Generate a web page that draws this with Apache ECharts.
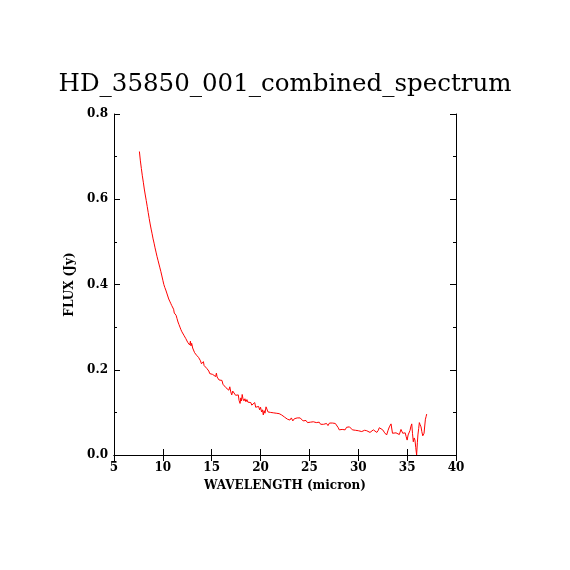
<!DOCTYPE html>
<html>
<head>
<meta charset="utf-8">
<script src="https://cdn.jsdelivr.net/npm/echarts@6/dist/echarts.min.js"></script>
<style>
  html, body { margin: 0; padding: 0; background: #fff; }
  #chart { width: 570px; height: 570px; }
</style>
</head>
<body>
<div id="chart"></div>
<script>
// wavelength (micron) and flux (Jy)
var wavelength = [
    7.60, 7.70, 7.80, 7.90, 8.00, 8.10, 8.20, 8.30, 8.40, 8.50,
    8.60, 8.70, 8.80, 8.90, 9.00, 9.10, 9.20, 9.30, 9.40, 9.50,
    9.60, 9.70, 9.80, 9.90, 10.00, 10.10, 10.20, 10.30, 10.40, 10.50,
    10.60, 10.70, 10.80, 10.90, 11.00, 11.10, 11.17, 11.25, 11.35, 11.45,
    11.55, 11.65, 11.75, 11.85, 11.95, 12.05, 12.15, 12.25, 12.35, 12.45,
    12.55, 12.65, 12.75, 12.82, 12.88, 12.95, 13.05, 13.15, 13.25, 13.35,
    13.45, 13.55, 13.65, 13.75, 13.85, 13.95, 14.02, 14.08, 14.15, 14.22,
    14.30, 14.40, 14.50, 14.60, 14.70, 14.80, 14.90, 15.00, 15.10, 15.20,
    15.30, 15.40, 15.48, 15.55, 15.65, 15.75, 15.85, 15.95, 16.05, 16.15,
    16.25, 16.35, 16.45, 16.55, 16.65, 16.75, 16.85, 16.95, 17.05, 17.15,
    17.25, 17.35, 17.45, 17.55, 17.65, 17.72, 17.80, 17.90, 17.98, 18.05,
    18.12, 18.20, 18.30, 18.40, 18.50, 18.60, 18.70, 18.80, 18.90, 19.00,
    19.10, 19.20, 19.30, 19.40, 19.50, 19.60, 19.70, 19.80, 19.90, 20.00,
    20.10, 20.20, 20.28, 20.36, 20.45, 20.56, 20.66, 20.76, 20.88, 21.00,
    21.15, 21.30, 21.45, 21.60, 21.75, 21.90, 22.00, 22.15, 22.30, 22.45,
    22.60, 22.75, 22.90, 23.00, 23.15, 23.30, 23.45, 23.60, 23.75, 23.90,
    24.05, 24.20, 24.35, 24.50, 24.65, 24.80, 24.95, 25.10, 25.25, 25.40,
    25.55, 25.70, 25.85, 26.00, 26.15, 26.30, 26.45, 26.60, 26.75, 26.90,
    27.05, 27.20, 27.35, 27.50, 27.65, 27.80, 27.95, 28.05, 28.20, 28.35,
    28.50, 28.65, 28.80, 28.95, 29.10, 29.25, 29.40, 29.55, 29.70, 29.85,
    30.00, 30.18, 30.35, 30.50, 30.65, 30.86, 31.00, 31.20, 31.35, 31.54,
    31.70, 31.90, 32.05, 32.15, 32.30, 32.50, 32.70, 32.90, 33.05, 33.18,
    33.35, 33.50, 33.65, 33.86, 34.00, 34.20, 34.37, 34.55, 34.70, 34.80,
    34.90, 35.00, 35.10, 35.20, 35.30, 35.37, 35.47, 35.55, 35.63, 35.72,
    35.80, 35.88, 35.97, 36.05, 36.10, 36.18, 36.25, 36.33, 36.42, 36.50,
    36.60, 36.73, 36.80, 36.87, 36.94, 37.00
];
var flux = [
    0.712, 0.690, 0.672, 0.655, 0.640, 0.624, 0.610, 0.597, 0.583, 0.569,
    0.555, 0.542, 0.530, 0.519, 0.507, 0.497, 0.486, 0.476, 0.466, 0.457,
    0.448, 0.439, 0.430, 0.420, 0.410, 0.400, 0.393, 0.387, 0.380, 0.373,
    0.366, 0.361, 0.356, 0.351, 0.347, 0.342, 0.333, 0.336, 0.328, 0.320,
    0.312, 0.306, 0.300, 0.294, 0.289, 0.286, 0.281, 0.278, 0.273, 0.270,
    0.264, 0.260, 0.258, 0.267, 0.256, 0.262, 0.251, 0.247, 0.240, 0.236,
    0.234, 0.232, 0.229, 0.228, 0.221, 0.214, 0.218, 0.211, 0.219, 0.210,
    0.212, 0.206, 0.203, 0.199, 0.197, 0.191, 0.190, 0.188, 0.189, 0.186,
    0.190, 0.184, 0.192, 0.183, 0.181, 0.176, 0.178, 0.172, 0.175, 0.166,
    0.162, 0.167, 0.158, 0.156, 0.160, 0.152, 0.160, 0.148, 0.141, 0.150,
    0.146, 0.149, 0.140, 0.144, 0.137, 0.141, 0.128, 0.121, 0.134, 0.127,
    0.142, 0.132, 0.127, 0.132, 0.125, 0.130, 0.124, 0.128, 0.120, 0.123,
    0.117, 0.121, 0.114, 0.123, 0.112, 0.116, 0.108, 0.114, 0.106, 0.112,
    0.101, 0.106, 0.094, 0.104, 0.098, 0.113, 0.111, 0.101, 0.097, 0.100,
    0.102, 0.099, 0.101, 0.098, 0.100, 0.097, 0.098, 0.094, 0.093, 0.089,
    0.087, 0.084, 0.082, 0.082, 0.087, 0.080, 0.085, 0.083, 0.087, 0.088,
    0.087, 0.083, 0.080, 0.078, 0.081, 0.076, 0.073, 0.077, 0.074, 0.078,
    0.074, 0.076, 0.075, 0.077, 0.072, 0.075, 0.072, 0.071, 0.074, 0.069,
    0.075, 0.071, 0.075, 0.072, 0.074, 0.070, 0.064, 0.059, 0.063, 0.060,
    0.064, 0.059, 0.065, 0.061, 0.066, 0.064, 0.059, 0.061, 0.058, 0.062,
    0.057, 0.059, 0.055, 0.056, 0.058, 0.057, 0.055, 0.053, 0.057, 0.059,
    0.055, 0.053, 0.058, 0.064, 0.061, 0.059, 0.052, 0.047, 0.058, 0.066,
    0.073, 0.051, 0.054, 0.052, 0.050, 0.048, 0.060, 0.051, 0.054, 0.052,
    0.043, 0.035, 0.047, 0.043, 0.058, 0.066, 0.073, 0.050, 0.031, 0.040,
    0.035, 0.018, 0.000, 0.030, 0.047, 0.062, 0.076, 0.071, 0.066, 0.055,
    0.045, 0.051, 0.068, 0.084, 0.090, 0.096
];
var titleText = 'HD_35850_001_combined_spectrum';
var xName = 'WAVELENGTH (micron)';
var yName = 'FLUX (Jy)';

var labelFont = { fontFamily: 'DejaVu Serif', fontSize: 12, fontWeight: 'bold', color: '#000' };
var nameFont = { fontFamily: 'DejaVu Serif', fontSize: 12, fontWeight: 'bold', color: '#000' };
var axisLine = { show: true, lineStyle: { color: '#000', width: 1 } };
var tick = { show: true, inside: true, length: 6, lineStyle: { color: '#000' } };

var points = wavelength.map(function (w, i) { return [w, flux[i]]; });

var chart = echarts.init(document.getElementById('chart'), null, { renderer: 'canvas' });
chart.setOption({
    backgroundColor: '#fff',
    animation: false,
    title: {
        text: titleText,
        left: 'center',
        top: 67,
        textStyle: { fontFamily: 'DejaVu Serif', fontSize: 24.5, fontWeight: 'normal', color: '#000' }
    },
    grid: { left: 114, right: 114, top: 114, bottom: 115, containLabel: false },
    xAxis: [{
        type: 'value', min: 5, max: 40, interval: 5, position: 'bottom',
        name: xName, nameLocation: 'middle', nameGap: 25,
        nameTextStyle: nameFont,
        axisLine: axisLine, axisTick: tick,
        axisLabel: Object.assign({ margin: 7 }, labelFont),
        splitLine: { show: false }
    }, {
        type: 'value', min: 5, max: 40, interval: 5, position: 'top',
        axisLine: axisLine, axisTick: tick,
        axisLabel: { show: false }, splitLine: { show: false }
    }],
    yAxis: [{
        type: 'value', min: 0, max: 0.8, interval: 0.2, position: 'left',
        name: yName, nameLocation: 'middle', nameGap: 33,
        nameTextStyle: nameFont,
        axisLine: axisLine, axisTick: tick,
        minorTick: { show: true, splitNumber: 2, length: 3, lineStyle: { color: '#000' } },
        axisLabel: Object.assign({ margin: 6, formatter: function (v) { return v.toFixed(1); } }, labelFont),
        splitLine: { show: false }
    }, {
        type: 'value', min: 0, max: 0.8, interval: 0.2, position: 'right',
        axisLine: axisLine, axisTick: tick,
        minorTick: { show: true, splitNumber: 2, length: 3, lineStyle: { color: '#000' } },
        axisLabel: { show: false }, splitLine: { show: false }
    }],
    series: [{
        type: 'line',
        xAxisIndex: 0, yAxisIndex: 0,
        data: points,
        showSymbol: false,
        lineStyle: { color: '#ff0000', width: 1 },
        silent: true
    }]
});
window.addEventListener('resize', function () {
    chart.resize();
});
</script>
</body>
</html>
